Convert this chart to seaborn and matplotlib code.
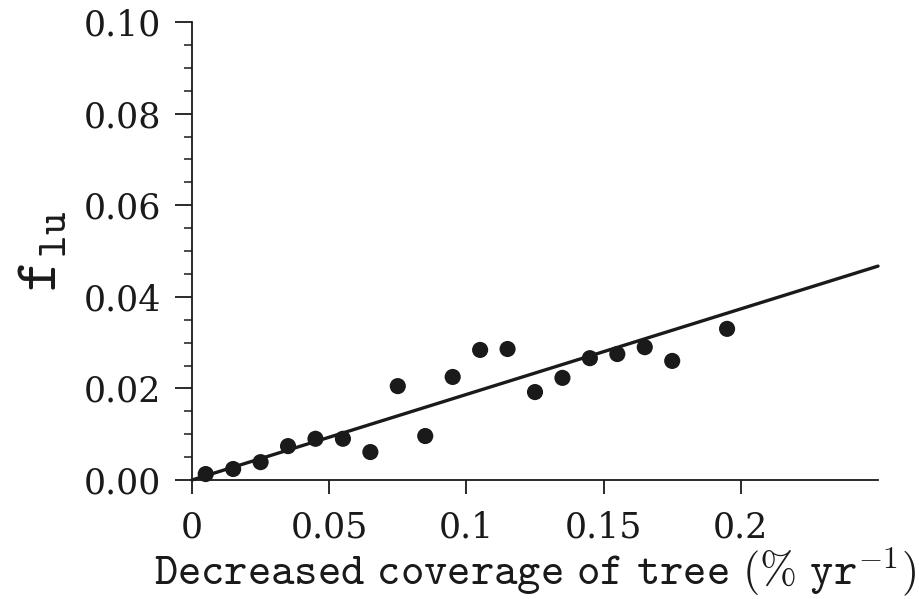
import matplotlib
matplotlib.use("Agg")
import matplotlib.pyplot as plt
import seaborn as sns
import pandas as pd
from matplotlib.ticker import MultipleLocator, FixedLocator

# Data
x_vals = [0.005, 0.015, 0.025, 0.035, 0.045, 0.055, 0.065, 0.075, 0.085, 0.095,
          0.105, 0.115, 0.125, 0.135, 0.145, 0.155, 0.165, 0.175, 0.195]
y_vals = [0.0013, 0.0024, 0.0039, 0.0074, 0.0090, 0.0090, 0.0061, 0.0205, 0.0096, 0.0225,
          0.0284, 0.0286, 0.0192, 0.0223, 0.0266, 0.0275, 0.0290, 0.0260, 0.0330]
fit_x = [0.0, 0.25]
fit_y = [0.0, 0.0467]
x_ticks = [0, 0.05, 0.1, 0.15, 0.2]
x_tick_labels = ["0", "0.05", "0.1", "0.15", "0.2"]
y_ticks = [0.00, 0.02, 0.04, 0.06, 0.08, 0.10]
y_tick_labels = ["0.00", "0.02", "0.04", "0.06", "0.08", "0.10"]

sns.set_style("white")
plt.rcParams["font.family"] = ["DejaVu Serif"]
plt.rcParams["mathtext.fontset"] = "cm"

df = pd.DataFrame({"x": x_vals, "y": y_vals})
fit = pd.DataFrame({"x": fit_x, "y": fit_y})

fig = plt.figure(figsize=(9.19, 5.99), dpi=100)
ax = fig.add_axes([192 / 919, 1 - 480 / 599, (878 - 192) / 919, (480 - 22) / 599])

sns.lineplot(data=fit, x="x", y="y", ax=ax, color="#1a1a1a", linewidth=2.4, clip_on=False)
sns.scatterplot(data=df, x="x", y="y", ax=ax, color="#1a1a1a", s=135, edgecolor="none",
                zorder=3, clip_on=False)

ax.set_xlim(0, 0.25)
ax.set_ylim(0, 0.10)
ax.xaxis.set_major_locator(FixedLocator(x_ticks))
ax.set_xticklabels(x_tick_labels)
ax.yaxis.set_major_locator(FixedLocator(y_ticks))
ax.set_yticklabels(y_tick_labels)
ax.yaxis.set_minor_locator(MultipleLocator(0.005))

for s in ["top", "right"]:
    ax.spines[s].set_visible(False)
for s in ["left", "bottom"]:
    ax.spines[s].set_color("#1a1a1a")
    ax.spines[s].set_linewidth(1.3)

ax.tick_params(axis="both", which="major", direction="out", length=11, width=1.3,
               color="#1a1a1a", labelsize=25, labelcolor="#1a1a1a",
               bottom=True, left=True)
ax.tick_params(axis="x", which="major", length=10, pad=12)
ax.tick_params(axis="y", which="major", length=12, pad=10)
ax.tick_params(axis="y", which="minor", direction="out", length=6, width=1.1,
               color="#1a1a1a", left=True)

ax.set_xlabel(r"$\mathtt{Decreased\ coverage\ of\ tree\ (\%\ yr^{-1})}$",
              fontsize=32, color="#1a1a1a", labelpad=1)
ax.set_ylabel(r"$\mathtt{f}_{\mathtt{lu}}$", fontsize=44, color="#1a1a1a", labelpad=10)

fig.savefig("out.png", dpi=100)
